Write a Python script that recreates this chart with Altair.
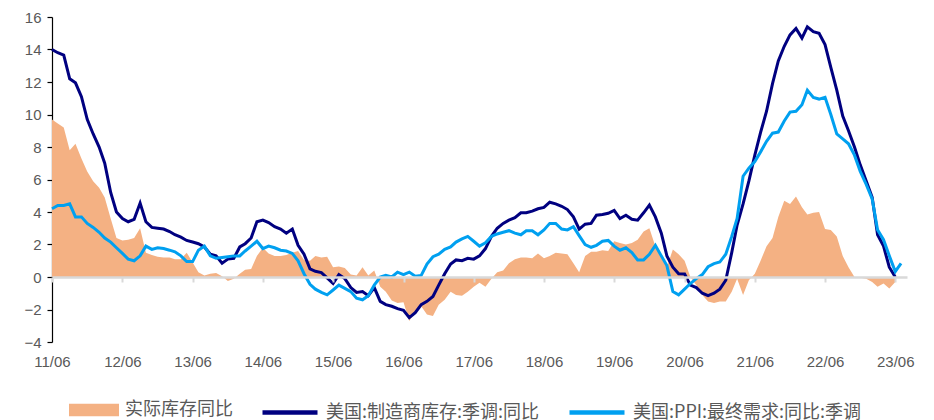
import altair as alt
import pandas as pd

LBL_A = "实际库存同比"
LBL_B = "美国:制造商库存:季调:同比"
LBL_C = "美国:PPI:最终需求:同比:季调"

months = pd.date_range("2011-06-01", periods=146, freq="MS")

real_inventory_yoy = [
    9.7, 9.45, 9.2, 7.8, 8.2, 7.3, 6.5, 5.9, 5.5, 4.9,
    3.6, 2.4, 2.25, 2.3, 2.4, 3.0, 1.5, 1.35, 1.25, 1.2,
    1.2, 1.1, 1.1, 1.5, 0.9, 0.3, 0.1, 0.2, 0.25, 0.05,
    -0.25, -0.1, 0.2, 0.45, 0.5, 1.3, 1.8, 1.45, 1.3, 1.3,
    1.35, 1.5, 1.6, 1.05, 1.0, 1.3, 1.2, 1.25, 0.6, 0.65,
    0.55, 0.15, 0.1, 0.6, 0.1, 0.4, -0.6, -0.9, -1.45, -1.6,
    -1.55, -2.7, -2.1, -1.8, -2.3, -2.4, -1.7, -1.4, -0.9, -1.1,
    -1.15, -0.9, -0.6, -0.35, -0.6, -0.1, 0.3, 0.4, 0.85, 1.1,
    1.2, 1.2, 1.15, 1.45, 1.15, 1.3, 1.5, 1.45, 1.4, 0.85,
    0.3, 1.3, 1.55, 1.55, 1.65, 1.6, 2.2, 2.1, 2.0, 2.1,
    2.3, 2.8, 3.0, 1.9, 1.2, 0.6, 1.7, 1.4, 1.0, 0.0,
    -0.5, -1.1, -1.5, -1.6, -1.5, -1.5, -0.9, -0.1, -1.1, -0.2,
    0.2, 1.0, 1.9, 2.4, 3.7, 4.7, 4.5, 4.95, 4.3, 3.85,
    3.95, 4.0, 2.95, 2.9, 2.5, 1.3, 0.6, 0.0, -0.05, -0.1,
    -0.3, -0.6, -0.4, -0.7, -0.3,
]

mfg_inventory_yoy = [
    14.0, 13.8, 13.65, 12.2, 11.95, 11.1, 9.7, 8.8, 8.0, 7.0,
    5.2, 4.0, 3.6, 3.4, 3.55, 4.55, 3.4, 3.05, 3.0, 2.95,
    2.8, 2.6, 2.45, 2.25, 2.15, 2.05, 1.85, 1.4, 1.3, 0.85,
    1.1, 1.15, 1.85, 2.05, 2.4, 3.4, 3.5, 3.35, 3.1, 2.95,
    2.7, 2.95, 1.95, 1.4, 0.5, 0.35, 0.27, -0.05, -0.4, 0.15,
    -0.1, -0.65, -0.95, -0.9, -1.15, -0.65, -1.5, -1.7, -1.8, -1.95,
    -2.05, -2.5, -2.2, -1.7, -1.5, -1.2, -0.5, 0.2, 0.8, 1.05,
    1.0, 1.15, 1.1, 1.3, 1.75, 2.5, 3.0, 3.3, 3.5, 3.65,
    3.95, 3.95, 4.05, 4.2, 4.28, 4.6, 4.5, 4.35, 4.15, 3.7,
    2.95, 3.25, 3.3, 3.8, 3.85, 3.92, 4.1, 3.6, 3.8, 3.55,
    3.5, 3.95, 4.43, 3.7, 2.7, 1.3, 0.6, 0.2, 0.18, -0.5,
    -0.65, -1.0, -1.15, -1.0, -0.75, -0.2, 1.5, 3.2, 4.5, 5.9,
    7.5, 8.9, 10.2, 11.9, 13.3, 14.2, 14.9, 15.3, 14.7, 15.4,
    15.1, 15.0, 14.3, 12.9, 11.5, 9.9, 9.0, 8.0, 6.9, 5.9,
    4.9, 2.6, 1.9, 0.6, 0.0,
]

ppi_final_demand_yoy = [
    4.2, 4.4, 4.4, 4.5, 3.7, 3.7, 3.3, 3.05, 2.75, 2.4,
    2.15, 1.8, 1.45, 1.1, 1.0, 1.3, 1.9, 1.7, 1.8, 1.75,
    1.65, 1.55, 1.3, 0.95, 0.95, 1.65, 1.9, 1.3, 1.15, 1.2,
    1.25, 1.3, 1.3, 1.6, 1.9, 2.2, 1.75, 1.9, 1.8, 1.65,
    1.6, 1.45, 1.0, 0.2, -0.45, -0.75, -0.95, -1.1, -0.8, -0.5,
    -0.7, -0.9, -1.3, -1.4, -1.15, -0.5, 0.0, 0.1, 0.0, 0.3,
    0.15, 0.3, 0.05, 0.1, 0.8, 1.25, 1.4, 1.7, 1.85, 2.15,
    2.35, 2.5, 2.2, 1.9, 2.1, 2.5, 2.65, 2.75, 2.85, 2.7,
    2.6, 2.85, 2.85, 2.6, 2.9, 3.3, 3.3, 2.95, 2.9, 3.1,
    2.55, 2.0, 1.83, 1.95, 2.2, 2.25, 1.9, 1.65, 1.8, 1.5,
    1.05, 1.05, 1.4, 1.95, 1.3, 0.7, -0.9, -1.1, -0.75, -0.4,
    -0.1, 0.15, 0.63, 0.82, 0.92, 1.4, 2.5, 3.6, 6.2, 6.7,
    7.1, 7.7, 8.35, 8.85, 8.92, 9.6, 10.15, 10.2, 10.6, 11.5,
    11.05, 10.95, 11.06, 10.0, 8.8, 8.5, 8.2, 7.5, 6.5, 5.7,
    4.8, 2.9, 2.3, 1.3, 0.33, 0.84,
]

year_ticks = [alt.DateTime(year=y, month=6, date=1) for y in range(2011, 2024)]
y_ticks = [-4, -2, 0, 2, 4, 6, 8, 10, 12, 14, 16]

ORANGE = "#F4B183"
NAVY = "#000080"
SKY = "#00A0F0"
GREY_TXT = "#595959"

df_a = pd.DataFrame({"date": months[:len(real_inventory_yoy)], "value": real_inventory_yoy, "series": LBL_A})
df_b = pd.DataFrame({"date": months[:len(mfg_inventory_yoy)], "value": mfg_inventory_yoy, "series": LBL_B})
df_c = pd.DataFrame({"date": months[:len(ppi_final_demand_yoy)], "value": ppi_final_demand_yoy, "series": LBL_C})

x_enc = alt.X(
    "date:T",
    scale=alt.Scale(domain=[alt.DateTime(year=2011, month=6, date=1), alt.DateTime(year=2023, month=8, date=1)]),
    axis=alt.Axis(
        values=year_ticks, format="%y/%m", title=None, grid=False,
        offset=-65, domainColor="#D9D9D9", domainWidth=2.5,
        tickColor="#D9D9D9", tickWidth=2, tickSize=5,
        labelPadding=72, labelFlush=False, labelOverlap=False,
        labelColor=GREY_TXT, labelFont="Liberation Sans", labelFontSize=15,
        zindex=1,
    ),
)
y_enc = alt.Y(
    "value:Q",
    scale=alt.Scale(domain=[-4, 16], nice=False, zero=False),
    axis=alt.Axis(
        values=y_ticks, tickCount=11, title=None, grid=False, labelOverlap=False,
        labelBound=False, labelFlush=False,
        domainColor="#000000", domainWidth=1.2, tickColor="#000000", tickSize=5, tickWidth=1.2,
        labelColor=GREY_TXT, labelFont="Liberation Sans", labelFontSize=15, labelPadding=6,
    ),
)

legend_common = dict(
    title=None, orient="none", labelFont="Noto Sans CJK SC", labelFontSize=18,
    labelColor=GREY_TXT, labelLimit=600, padding=0, labelOffset=6,
)

area = alt.Chart(df_a).mark_area(interpolate="linear").encode(
    x=x_enc,
    y=y_enc,
    y2=alt.datum(0),
    fill=alt.Fill(
        "series:N",
        scale=alt.Scale(domain=[LBL_A], range=[ORANGE]),
        legend=alt.Legend(
            legendX=17, legendY=368,
            symbolType="M-1,-0.25L1,-0.25L1,0.25L-1,0.25Z", symbolSize=2500,
            symbolStrokeWidth=0, symbolOpacity=1, **legend_common,
        ),
    ),
)

stroke_scale = alt.Scale(domain=[LBL_B, LBL_C], range=[NAVY, SKY])
stroke_legend = alt.Legend(
    legendX=208, legendY=365.5, direction="horizontal", columnPadding=20,
    symbolType="stroke", symbolSize=3025, symbolStrokeWidth=4.5, **legend_common,
)

line_b = alt.Chart(df_b).mark_line(strokeWidth=3, interpolate="linear").encode(
    x=x_enc, y=y_enc,
    stroke=alt.Stroke("series:N", scale=stroke_scale, legend=stroke_legend),
)
line_c = alt.Chart(df_c).mark_line(strokeWidth=3, interpolate="linear").encode(
    x=x_enc, y=y_enc,
    stroke=alt.Stroke("series:N", scale=stroke_scale, legend=stroke_legend),
)

chart = alt.layer(area, line_b, line_c).properties(
    width=855, height=325,
    autosize=alt.AutoSizeParams(type="none"),
    padding={"left": 52, "top": 17, "right": 27, "bottom": 78},
    background="white",
).configure_view(stroke=None)

chart.save("out.html", embed_options={"renderer": "svg", "actions": False})
